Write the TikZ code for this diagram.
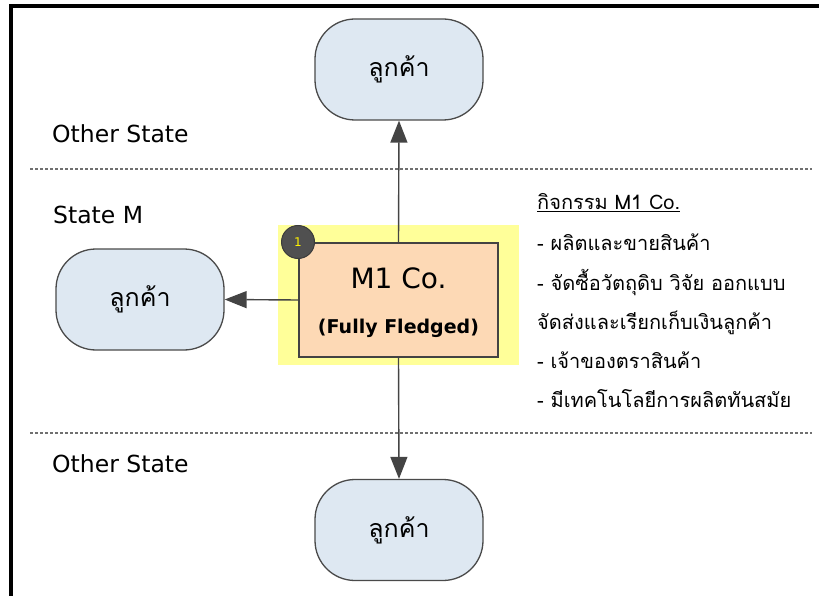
\documentclass[tikz,border=0pt]{standalone}
\usepackage{fontspec}
\setmainfont{DejaVu Sans}
\newfontfamily\thaifont[Script=Thai]{Loma}
\usetikzlibrary{arrows.meta}
\definecolor{custfill}{HTML}{DEE8F2}
\definecolor{edgegray}{HTML}{4A4A4A}
\definecolor{peach}{HTML}{FDD9B5}
\definecolor{hilite}{HTML}{FFFF99}
\definecolor{badge}{HTML}{505050}
\definecolor{dotgray}{HTML}{707070}
\definecolor{arrowgray}{HTML}{444444}
\tikzset{
  customer/.style={draw=edgegray, line width=1.3pt, fill=custfill,
    rounded corners=40pt, minimum width=168pt, minimum height=101pt,
    inner sep=0pt, font=\thaifont\fontsize{25}{30}\selectfont},
  company/.style={draw=edgegray!90!black, line width=2pt, fill=peach,
    minimum width=199pt, minimum height=114pt, inner sep=0pt},
  statelabel/.style={anchor=base west, inner sep=0pt,
    font=\fontsize{23.5}{28}\selectfont},
  flow/.style={draw=arrowgray, line width=1.4pt,
    -{Triangle[length=22pt,width=17pt]}},
  boundary/.style={draw=dotgray, line width=1.2pt, dash pattern=on 3pt off 2pt},
  note/.style={anchor=base west, inner sep=0pt,
    font=\thaifont\fontsize{20}{24}\selectfont},
}
\begin{document}
\begin{tikzpicture}[x=1pt, y=-1pt]
  \useasboundingbox (0,0) rectangle (819,596);
  % frame on the top and left edges
  \fill[black] (9,4) rectangle (819,8);
  \fill[black] (9,4) rectangle (13,596);

  % state boundaries
  \coordinate (b1l) at (30,169);
  \coordinate (b1r) at (812,169);
  \coordinate (b2l) at (30,433);
  \coordinate (b2r) at (812,433);
  \draw[boundary] (b1l) -- (b1r);
  \draw[boundary] (b2l) -- (b2r);

  % state labels
  \node[statelabel] (os1) at (52,143) {Other State};
  \node[statelabel] (sm)  at (53,223) {State M};
  \node[statelabel] (os2) at (52,472) {Other State};

  % highlighted company box
  \fill[hilite] (278,225) rectangle (519,365);
  \node[company] (m1) at (398.5,300) {};
  \node[font=\fontsize{28}{33}\selectfont] (m1name) at (398.5,278) {M1 Co.};
  \node[font=\bfseries\fontsize{19}{23}\selectfont] (m1kind) at (398.5,328) {(Fully Fledged)};
  \node[circle, draw=edgegray!80!black, line width=1pt, fill=badge,
        minimum size=33pt, inner sep=0pt, text=yellow,
        font=\fontsize{12}{13}\selectfont] (badge) at (m1.north west) {1};

  % customers
  \node[customer] (ctop)  at (399,69.5)  {ลูกค้า};
  \node[customer] (cleft) at (140,299.5) {ลูกค้า};
  \node[customer] (cbot)  at (399,530)   {ลูกค้า};

  % flows
  \draw[flow] (m1.north) -- (ctop.south);
  \draw[flow] (m1.west) -- (cleft.east);
  \draw[flow] (m1.south) -- (cbot.north);

  % activity list
  \node[note] (h)  at (537,210) {\underline{กิจกรรม M1 Co.}};
  \node[note] (a1) at (537,251) {- ผลิตและขายสินค้า};
  \node[note] (a2) at (537,290) {- จัดซื้อวัตถุดิบ วิจัย ออกแบบ};
  \node[note] (a3) at (537,329) {จัดส่งและเรียกเก็บเงินลูกค้า};
  \node[note] (a4) at (537,368) {- เจ้าของตราสินค้า};
  \node[note] (a5) at (537,407) {- มีเทคโนโลยีการผลิตทันสมัย};
\end{tikzpicture}
\end{document}
